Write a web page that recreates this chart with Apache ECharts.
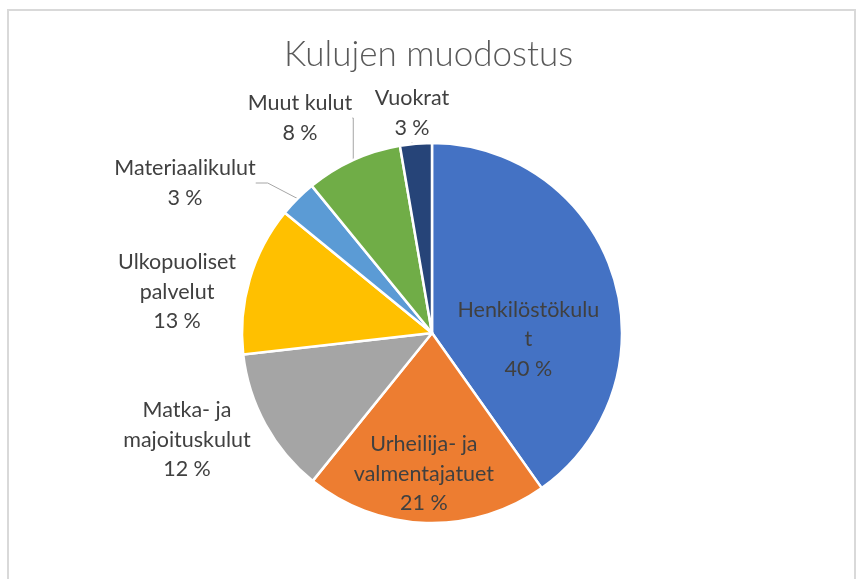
<!DOCTYPE html>
<html>
<head>
<meta charset="utf-8">
<style>
  html, body { margin: 0; padding: 0; background: #fff; }
  #frame { position: absolute; left: 7px; top: 9px; width: 845px; height: 580px; border: 2px solid #d9d9d9; border-bottom: none; }
  #kulut { position: absolute; left: 0; top: 0; width: 857px; height: 579px; }
</style>
<script src="https://cdn.jsdelivr.net/npm/echarts@6/dist/echarts.min.js"></script>
</head>
<body>
<div id="frame"></div>
<div id="kulut"></div>
<script>
// kulujen jakauma, luettu kuvasta
var nimet = ['Henkilöstökulut', 'Urheilija- ja valmentajatuet', 'Matka- ja majoituskulut',
             'Ulkopuoliset palvelut', 'Materiaalikulut', 'Muut kulut', 'Vuokrat'];
var osuudet = [40.2, 20.6, 12.4, 12.7, 3.2, 8.2, 2.7];
// rivitys kuten alkuperäisessä
var nimiRivit = ['Henkilöstökulu\nt', 'Urheilija- ja\nvalmentajatuet', 'Matka- ja\nmajoituskulut',
                 'Ulkopuoliset\npalvelut', 'Materiaalikulut', 'Muut kulut', 'Vuokrat'];
var varit = ['#4472C4', '#ED7D31', '#A5A5A5', '#FFC000', '#5B9BD5', '#70AD47', '#264478'];
var viivat = [false, false, false, false, true, true, true];
// ulkopuolisten selitteiden keskipisteet (px)
var selitePaikat = [null, null, [187, 440], [177, 292], [185, 183], [300, 118], [412, 113]];

var kulut = echarts.init(document.getElementById('kulut'));

var data = nimet.map(function (n, i) {
    var sisalla = i < 2;
    return {
        name: n,
        value: osuudet[i],
        itemStyle: { color: varit[i] },
        label: { position: sisalla ? 'inside' : 'outside' },
        labelLine: { show: viivat[i] }
    };
});

var option_kulut = {
    title: {
        text: 'Kulujen muodostus',
        left: 'center',
        top: 32,
        textStyle: { fontFamily: 'Lato', fontWeight: 300, fontSize: 35, color: '#595959' }
    },
    series: [
        {
            type: 'pie',
            center: [432, 333],
            radius: 190,
            startAngle: 90,
            clockwise: true,
            percentPrecision: 0,
            avoidLabelOverlap: false,
            itemStyle: { borderColor: '#fff', borderWidth: 2.5 },
            label: {
                fontFamily: 'Lato',
                fontSize: 21.5,
                lineHeight: 29.5,
                color: '#404040',
                formatter: function (p) {
                    return nimiRivit[p.dataIndex] + '\n' + p.percent + ' %';
                }
            },
            labelLine: {
                length: 12,
                length2: 12,
                lineStyle: { color: '#a6a6a6', width: 1 }
            },
            labelLayout: function (p) {
                if (p.dataIndex === 0) return { dx: 3, dy: 36 };
                if (p.dataIndex === 1) return { dx: -5, dy: 43 };
                var s = selitePaikat[p.dataIndex];
                return { x: s[0], y: s[1], align: 'center', verticalAlign: 'middle' };
            },
            emphasis: { disabled: true },
            animation: false,
            data: data
        }
    ]
};
kulut.setOption(option_kulut);
</script>
</body>
</html>
